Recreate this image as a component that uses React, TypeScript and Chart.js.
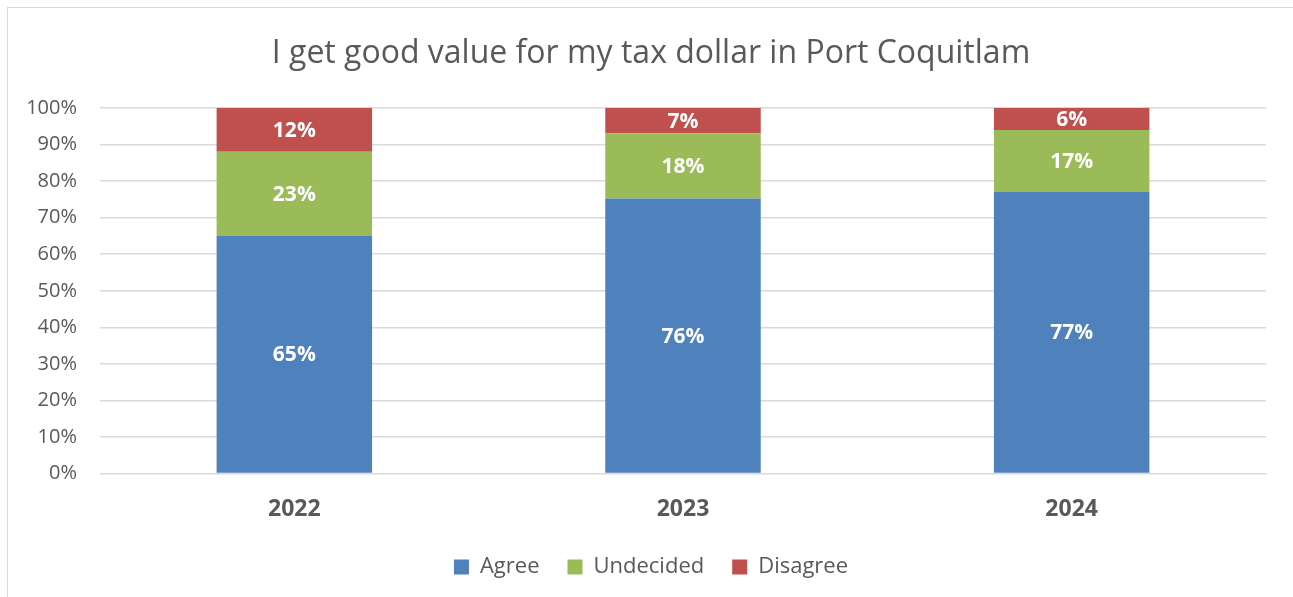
import React, { useEffect, useRef } from "react";
import { Chart, registerables } from "chart.js";

Chart.register(...registerables);

const years = ["2022", "2023", "2024"];
const agree = [65, 76, 77];
const undecided = [23, 18, 17];
const disagree = [12, 7, 6];
const yTicks = ["0%", "10%", "20%", "30%", "40%", "50%", "60%", "70%", "80%", "90%", "100%"];
const title = "I get good value for my tax dollar in Port Coquitlam";

const FONT = "'Open Sans', sans-serif";
const GREY = "#595959";

const totals = years.map((_, i) => agree[i] + undecided[i] + disagree[i]);
const norm = (arr: number[]) => arr.map((v, i) => (v / totals[i]) * 100);

const labelPlugin = {
  id: "barLabels",
  afterDatasetsDraw(chart: any) {
    const ctx = chart.ctx;
    ctx.save();
    ctx.fillStyle = "#ffffff";
    ctx.font = `bold 21px ${FONT}`;
    ctx.textAlign = "center";
    ctx.textBaseline = "middle";
    chart.data.datasets.forEach((ds: any, di: number) => {
      const meta = chart.getDatasetMeta(di);
      meta.data.forEach((bar: any, i: number) => {
        const raw = ds.rawValues[i];
        const y = (bar.y + bar.base) / 2;
        ctx.fillText(raw + "%", bar.x, y + 1);
      });
    });
    ctx.restore();
  },
};

export default function App() {
  const ref = useRef<HTMLCanvasElement>(null);
  useEffect(() => {
    if (!ref.current) return;
    const chart = new Chart(ref.current, {
      type: "bar",
      data: {
        labels: years,
        datasets: [
          { label: "Agree", data: norm(agree), rawValues: agree, backgroundColor: "#4F81BD" } as any,
          { label: "Undecided", data: norm(undecided), rawValues: undecided, backgroundColor: "#9BBB59" } as any,
          { label: "Disagree", data: norm(disagree), rawValues: disagree, backgroundColor: "#C0504D" } as any,
        ],
      },
      options: {
        responsive: false,
        animation: false,
        categoryPercentage: 1,
        barPercentage: 0.4,
        layout: { padding: { left: 0, right: 0, top: 0, bottom: 10 } },
        plugins: {
          tooltip: { enabled: false },
          title: {
            display: true,
            text: title,
            color: GREY,
            font: { family: FONT, size: 32, weight: "normal" },
            padding: { top: 27, bottom: 34.6 },
          },
          legend: {
            position: "bottom",
            labels: {
              color: GREY,
              font: { family: FONT, size: 22 },
              boxWidth: 15,
              boxHeight: 15,
              padding: 28,
            },
          },
        },
        scales: {
          x: {
            stacked: true,
            grid: { display: false, drawTicks: false },
            border: { display: false },
            afterFit: (s: any) => {
              s.height = 54.4;
            },
            ticks: {
              color: GREY,
              font: { family: FONT, size: 23, weight: "bold" },
              padding: 22,
            },
          },
          y: {
            stacked: true,
            min: 0,
            max: 100,
            afterFit: (s: any) => {
              s.width = 92;
            },
            grid: { color: "#D9D9D9", lineWidth: 1.5, drawTicks: false },
            border: { display: false },
            ticks: {
              stepSize: 10,
              color: GREY,
              font: { family: FONT, size: 20 },
              padding: 23,
              callback: (_v: any, i: number) => yTicks[i],
            },
          },
          yPad: {
            type: "linear",
            position: "right",
            display: true,
            afterFit: (s: any) => {
              s.width = 28;
            },
            grid: { display: false, drawTicks: false },
            border: { display: false },
            ticks: { display: false },
          },
        },
      } as any,
      plugins: [labelPlugin],
    });
    return () => chart.destroy();
  }, []);
  return (
    <div
      style={{
        position: "absolute",
        left: 7,
        top: 7,
        width: 1300,
        height: 600,
        border: "1.5px solid #D9D9D9",
        boxSizing: "border-box",
        background: "#fff",
      }}
    >
      <canvas ref={ref} width={1286} height={590} style={{ display: "block" }} />
    </div>
  );
}
